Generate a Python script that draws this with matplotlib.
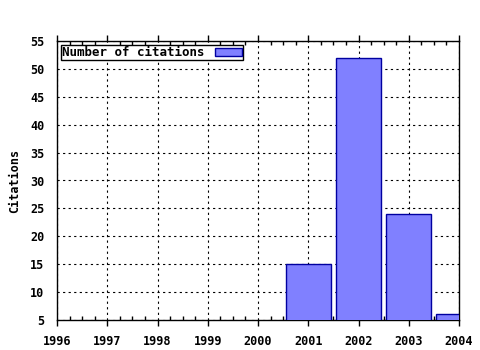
import matplotlib
matplotlib.use("Agg")
import matplotlib.pyplot as plt
from matplotlib.ticker import MultipleLocator

years = [2001, 2002, 2003, 2004]
citations = [15, 52, 24, 6]
xticks = [1996, 1997, 1998, 1999, 2000, 2001, 2002, 2003, 2004]
yticks = [5, 10, 15, 20, 25, 30, 35, 40, 45, 50, 55]

plt.rcParams['font.family'] = ['DejaVu Sans Mono']
plt.rcParams['font.weight'] = 'bold'

fig = plt.figure(figsize=(4.8, 3.5), dpi=100)
ax = fig.add_axes([57/480, 30/350, 402/480, 279/350])
ax.bar(years, citations, width=0.9, color='#8080ff', edgecolor='#0000a0',
       linewidth=1.0, label='Number of citations', zorder=3)
ax.set_xlim(1996, 2004)
ax.set_ylim(5, 55)
ax.set_xticks(xticks)
ax.set_xticklabels([str(x) for x in xticks], fontsize=8.5, fontweight='bold')
ax.set_yticks(yticks)
ax.set_yticklabels([str(y) for y in yticks], fontsize=8.5, fontweight='bold')
ax.xaxis.set_minor_locator(MultipleLocator(0.25))
ax.tick_params(axis='x', which='major', direction='out', top=True, length=4, width=1, pad=7)
ax.tick_params(axis='x', which='minor', direction='in', top=True, length=3, width=1)
ax.tick_params(axis='y', which='both', length=0, pad=9)
ax.grid(True, which='major', color='black', linestyle=(0, (2, 3)), linewidth=0.8, zorder=1)
ax.set_ylabel('Citations', fontsize=8.5, fontweight='bold')
ax.yaxis.set_label_coords(-(57 - 21) / 402, 0.5)
for s in ax.spines.values():
    s.set_linewidth(1)
leg = ax.legend(loc='upper left', markerfirst=False, fancybox=False, framealpha=1,
                edgecolor='black', fontsize=9, borderpad=0.1, handlelength=2.2,
                handleheight=0.6, borderaxespad=0.3)
leg.get_frame().set_linewidth(1)
fig.savefig('out.png', dpi=100)
